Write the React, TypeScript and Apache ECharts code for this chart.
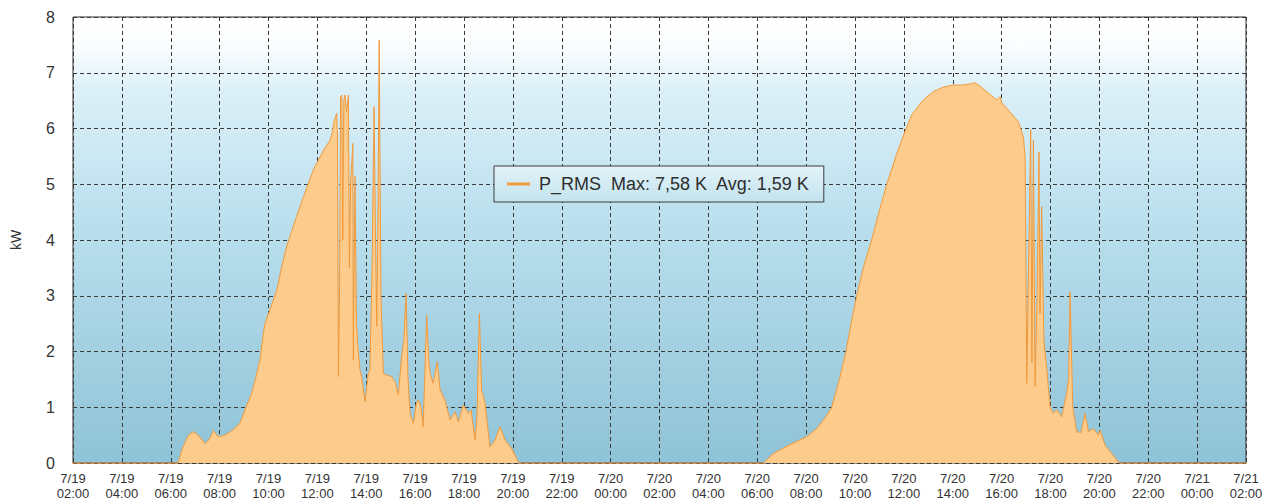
import React, { useEffect, useRef } from "react";
import * as echarts from "echarts";

// Hours counted from 7/19 00:00
const tickLabels: string[] = [
  "7/19\n02:00", "7/19\n04:00", "7/19\n06:00", "7/19\n08:00", "7/19\n10:00", "7/19\n12:00",
  "7/19\n14:00", "7/19\n16:00", "7/19\n18:00", "7/19\n20:00", "7/19\n22:00", "7/20\n00:00",
  "7/20\n02:00", "7/20\n04:00", "7/20\n06:00", "7/20\n08:00", "7/20\n10:00", "7/20\n12:00",
  "7/20\n14:00", "7/20\n16:00", "7/20\n18:00", "7/20\n20:00", "7/20\n22:00", "7/21\n00:00",
  "7/21\n02:00",
];

const seriesName = "P_RMS";
const maxLabel = "7,58 K";
const avgLabel = "1,59 K";

const day1Hours: number[] = [
  1.8, 2.0, 6.30, 6.45, 6.72, 6.92, 7.12, 7.40, 7.57, 7.74, 7.95, 8.22, 8.51, 8.83, 9.08, 9.31,
  9.49, 9.65, 9.78, 9.86, 10.06, 10.34, 10.53, 10.74, 10.94, 11.15, 11.33, 11.49, 11.63, 11.86,
  12.11, 12.31, 12.52, 12.62, 12.68, 12.79, 12.82, 12.86, 12.91, 12.95, 13.00, 13.04, 13.08,
  13.13, 13.19, 13.27, 13.31, 13.36, 13.45, 13.47, 13.54, 13.60, 13.67, 13.74, 13.81, 13.95,
  14.08, 14.15, 14.24, 14.32, 14.38, 14.43, 14.48, 14.53, 14.60, 14.70, 14.81, 15.04, 15.18,
  15.31, 15.45, 15.54, 15.63, 15.71, 15.79, 15.93, 16.04, 16.13, 16.24, 16.33, 16.47, 16.55,
  16.61, 16.74, 16.91, 17.02, 17.22, 17.43, 17.63, 17.77, 17.97, 18.18, 18.29, 18.45, 18.53,
  18.63, 18.72, 18.86, 19.06, 19.27, 19.47, 19.68, 19.95, 20.22, 20.29,
];
const day1Kw: number[] = [
  0, 0, 0, 0.23, 0.50, 0.56, 0.50, 0.35, 0.42, 0.58, 0.47, 0.50, 0.58, 0.71, 1.0, 1.25,
  1.55, 1.85, 2.30, 2.51, 2.75, 3.10, 3.50, 3.88, 4.15, 4.42, 4.65, 4.84, 5.02, 5.28,
  5.49, 5.65, 5.79, 5.95, 6.12, 6.27, 5.90, 1.55, 3.20, 6.57, 6.60, 4.00, 6.50,
  6.60, 6.30, 6.60, 3.50, 5.00, 5.73, 1.85, 5.14, 2.50, 2.03, 1.67, 1.55, 1.10,
  1.60, 1.67, 3.50, 6.39, 4.00, 2.45, 4.50, 7.58, 3.00, 1.61, 1.58, 1.55, 1.45,
  1.22, 1.91, 2.20, 3.04, 1.50, 0.89, 0.71, 1.05, 1.13, 1.00, 0.65, 2.65, 1.90,
  1.61, 1.43, 1.82, 1.31, 1.13, 0.77, 0.92, 0.74, 1.04, 0.89, 0.95, 0.41, 0.80,
  2.68, 1.31, 1.07, 0.29, 0.41, 0.65, 0.41, 0.26, 0.02, 0,
];

const day2Hours: number[] = [
  30.25, 30.66, 31.34, 32.02, 32.44, 32.84, 33.05, 33.39, 33.63, 33.84, 34.07, 34.37, 34.68,
  34.98, 35.30, 35.71, 36.09, 36.33, 36.79, 37.20, 37.60, 38.02, 38.43, 38.71, 38.91, 39.12,
  39.39, 39.80, 39.93, 40.02, 40.34, 40.68, 40.89, 40.96, 41.03, 41.10, 41.19, 41.24, 41.30,
  41.37, 41.45, 41.53, 41.57, 41.64, 41.73, 41.84, 41.98, 42.11, 42.25, 42.46, 42.66, 42.74,
  42.80, 42.91, 43.07, 43.25, 43.41, 43.55, 43.75, 43.96, 44.03, 44.23, 44.50, 44.77, 44.84,
  50.0, 50.87,
];
const day2Kw: number[] = [
  0, 0.17, 0.33, 0.47, 0.62, 0.85, 1.00, 1.55, 2.00, 2.50, 3.00, 3.55, 4.00,
  4.50, 5.00, 5.55, 6.00, 6.25, 6.51, 6.66, 6.74, 6.78, 6.78, 6.80, 6.82, 6.76,
  6.66, 6.51, 6.57, 6.45, 6.30, 6.12, 5.85, 5.50, 1.43, 3.50, 5.98, 1.80, 5.79,
  1.37, 3.00, 5.58, 2.68, 4.60, 2.20, 1.73, 1.01, 0.89, 0.96, 0.83, 1.25, 1.50,
  3.07, 1.01, 0.56, 0.55, 0.89, 0.56, 0.62, 0.50, 0.59, 0.32, 0.17, 0.02, 0,
  0, 0,
];

export default function App() {
  const ref = useRef<HTMLDivElement>(null);

  useEffect(() => {
    if (!ref.current) return;
    const chart = echarts.init(ref.current, null, { renderer: "svg" });
    const hours = [...day1Hours, ...day2Hours];
    const kw = [...day1Kw, ...day2Kw];
    const data = hours.map((h, i) => [h, kw[i]]);
    const textColor = "#333333";
    const font = "'Liberation Sans', Arial, Helvetica, sans-serif";

    chart.setOption({
      animation: false,
      backgroundColor: "#ffffff",
      textStyle: { fontFamily: font },
      grid: {
        left: 73,
        right: 21,
        top: 17,
        bottom: 39,
        containLabel: false,
        outerBoundsMode: "none",
        show: true,
        borderColor: "#2f2f2f",
        borderWidth: 1,
        backgroundColor: new echarts.graphic.LinearGradient(0, 0, 0, 1, [
          { offset: 0, color: "#ffffff" },
          { offset: 0.07, color: "#fafdfe" },
          { offset: 0.16, color: "#dcf0f8" },
          { offset: 0.45, color: "#bbe0ee" },
          { offset: 1, color: "#8fc3d7" },
        ]),
      },
      legend: {
        show: true,
        left: 494,
        top: 166,
        padding: [9, 14, 9, 13],
        itemGap: 0,
        itemWidth: 23,
        itemHeight: 3,
        icon: "rect",
        backgroundColor: new echarts.graphic.LinearGradient(0, 0, 0, 1, [
          { offset: 0, color: "#e3f3f9" },
          { offset: 1, color: "#c3e3ee" },
        ]),
        borderColor: "#3a3a3a",
        borderWidth: 1,
        borderRadius: 0,
        formatter: (name: string) => `${name}  Max: ${maxLabel}  Avg: ${avgLabel}`,
        textStyle: { fontSize: 18, color: "#2e2e2e", fontFamily: font, padding: [0, 0, 0, 4] },
        data: [{ name: seriesName, itemStyle: { color: "#f29a3a" } }],
      },
      xAxis: {
        type: "value",
        min: 2,
        max: 50,
        interval: 2,
        axisLine: { show: false },
        axisTick: { show: false },
        axisLabel: {
          color: textColor,
          fontSize: 13,
          lineHeight: 15,
          margin: 8,
          fontFamily: font,
          formatter: (v: number) => tickLabels[Math.round((v - 2) / 2)] ?? "",
        },
        splitLine: { show: true, lineStyle: { color: "#3a3a3a", type: [4, 3], width: 1 } },
      },
      yAxis: {
        type: "value",
        min: 0,
        max: 8,
        interval: 1,
        name: "kW",
        nameLocation: "middle",
        nameGap: 50,
        nameRotate: 90,
        nameTextStyle: { color: textColor, fontSize: 14, fontFamily: font },
        axisLine: { show: false },
        axisTick: { show: false },
        axisLabel: { color: textColor, fontSize: 16, margin: 18, fontFamily: font },
        splitLine: { show: true, lineStyle: { color: "#3a3a3a", type: [4, 3], width: 1 } },
      },
      series: [
        {
          name: seriesName,
          type: "line",
          data,
          clip: false,
          showSymbol: false,
          symbol: "none",
          lineStyle: { color: "#f29a3a", width: 1 },
          itemStyle: { color: "#f29a3a" },
          areaStyle: { color: "#fdcc8d", opacity: 1 },
          z: 3,
        },
      ],
    });

    return () => chart.dispose();
  }, []);

  return (
    <div
      ref={ref}
      style={{ position: "fixed", left: 0, top: 0, width: 1267, height: 502 }}
    />
  );
}
